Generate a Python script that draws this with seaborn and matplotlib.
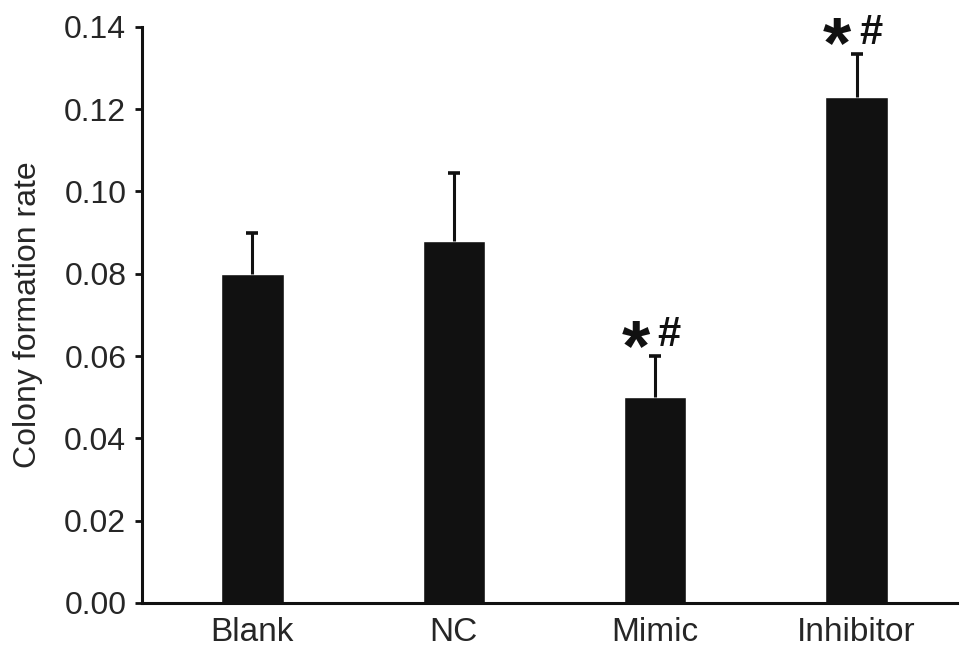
import numpy as np
import pandas as pd
import matplotlib
matplotlib.use("Agg")
import matplotlib.pyplot as plt
import seaborn as sns

# values
groups = ["Blank", "NC", "Mimic", "Inhibitor"]
rate = [0.080, 0.088, 0.050, 0.123]
sd = [0.010, 0.0165, 0.010, 0.0105]
marks = ["", "", "*#", "*#"]

sns.set_style("ticks")
plt.rcParams["font.family"] = ["Liberation Sans", "DejaVu Sans"]

df = pd.DataFrame({"group": groups, "rate": rate})

fig = plt.figure(figsize=(9.7, 6.54), dpi=100)
ax = fig.add_axes([0.146, 0.078, 0.841, 0.881])

sns.barplot(data=df, x="group", y="rate", color="#111111", width=0.31,
            saturation=1, errorbar=None, ax=ax)

# one-sided (upper) error bars, hide the cap at the bar top
x = np.arange(len(groups))
eb = ax.errorbar(x, rate, yerr=[np.zeros(len(sd)), sd], fmt="none",
                 ecolor="#111111", elinewidth=2.2, capsize=4.5, capthick=2.6)
eb[1][0].set_visible(False)

# significance marks
for i, m in enumerate(marks):
    if not m:
        continue
    top = rate[i] + sd[i]
    ax.annotate("*", xy=(i, top), xytext=(-14, -10), textcoords="offset points",
                ha="center", va="baseline", fontsize=52, fontweight="bold",
                color="#111111", annotation_clip=False)
    ax.annotate("#", xy=(i, top), xytext=(10, 7), textcoords="offset points",
                ha="center", va="baseline", fontsize=30, fontweight="bold",
                color="#111111", annotation_clip=False)

ax.set_xlim(-0.55, 3.5)
ax.set_ylim(0, 0.14)
ax.set_yticks(np.arange(0, 0.141, 0.02))
ax.set_yticklabels([f"{v:.2f}" for v in np.arange(0, 0.141, 0.02)])
ax.set_xlabel("")
ax.set_ylabel("Colony formation rate", fontsize=23, labelpad=15)

ax.tick_params(axis="y", labelsize=23, width=2, length=5, color="#111111", pad=6)
ax.tick_params(axis="x", labelsize=24, length=0, pad=10)

for side in ["top", "right"]:
    ax.spines[side].set_visible(False)
for side in ["left", "bottom"]:
    ax.spines[side].set_linewidth(2.2)
    ax.spines[side].set_color("#111111")

fig.savefig("out.png", dpi=100)
